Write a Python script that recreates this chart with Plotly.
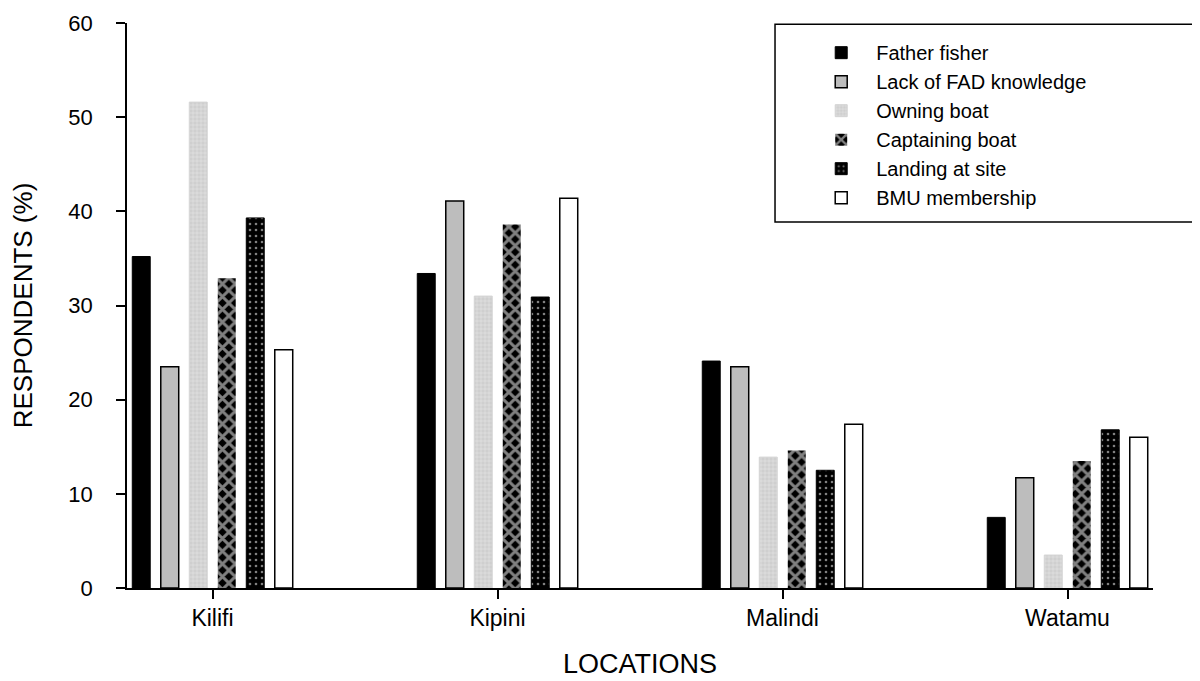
import plotly.graph_objects as go

locations = ["Kilifi", "Kipini", "Malindi", "Watamu"]
series_names = ["Father fisher", "Lack of FAD knowledge", "Owning boat",
                "Captaining boat", "Landing at site", "BMU membership"]
father_fisher = [35.2, 33.4, 24.1, 7.5]
lack_fad = [23.5, 41.1, 23.5, 11.7]
owning_boat = [51.6, 31.0, 13.9, 3.5]
captaining_boat = [32.9, 38.6, 14.6, 13.5]
landing_site = [39.3, 30.9, 12.5, 16.8]
bmu_membership = [25.3, 41.4, 17.4, 16.0]
y_ticks = [0, 10, 20, 30, 40, 50, 60]

values = [father_fisher, lack_fad, owning_boat, captaining_boat, landing_site, bmu_membership]

styles = [
    dict(color="black", line=dict(color="black", width=1)),
    dict(color="#bdbdbd", line=dict(color="black", width=1.5)),
    dict(color="#d4d4d4", line=dict(color="#d4d4d4", width=1),
         pattern=dict(shape="+", fgcolor="white", bgcolor="#cfcfcf", size=4, solidity=0.25, fillmode="overlay")),
    dict(color="black", line=dict(color="white", width=0),
         pattern=dict(shape="x", fgcolor="white", bgcolor="black", size=9, solidity=0.55)),
    dict(color="black", line=dict(color="black", width=1),
         pattern=dict(shape=".", fgcolor="white", bgcolor="black", size=6, solidity=0.15)),
    dict(color="white", line=dict(color="black", width=1.5)),
]

fig = go.Figure()
for name, vals, st in zip(series_names, values, styles):
    fig.add_trace(go.Bar(x=locations, y=vals, name=name, marker=st))

font_family = "Liberation Sans, Arial, sans-serif"
fig.update_layout(
    width=1200, height=681,
    margin=dict(l=119, r=55, t=15, b=101, autoexpand=False),
    paper_bgcolor="white", plot_bgcolor="white",
    barmode="group", bargap=0.4, bargroupgap=0.37,
    font=dict(family=font_family, color="black", size=20),
    legend=dict(
        x=0.662, y=0.982, xanchor="left", yanchor="top",
        borderwidth=0, bgcolor="rgba(0,0,0,0)",
        font=dict(size=20, family=font_family),
        itemwidth=60, tracegroupgap=0,
    ),
    shapes=[dict(type="rect", xref="paper", yref="paper",
                 x0=0.6316, x1=1.0419, y0=0.648, y1=0.998,
                 line=dict(color="black", width=1.5), layer="above")],
    xaxis=dict(
        range=[-0.3, 3.3], showline=True, linecolor="black", linewidth=1.5,
        ticks="outside", ticklen=9, tickwidth=1.5, tickcolor="black",
        showgrid=False, zeroline=False, automargin=False,
        tickfont=dict(size=23), ticklabelstandoff=0,
        title=dict(text="LOCATIONS", font=dict(size=27), standoff=24),
    ),
    yaxis=dict(
        range=[0, 60], tickvals=y_ticks, showline=True, linecolor="black", linewidth=1.5,
        ticks="outside", ticklen=9, tickwidth=1.5, tickcolor="black",
        showgrid=False, zeroline=False, automargin=False,
        tickfont=dict(size=22), ticklabelstandoff=19,
        title=dict(text="RESPONDENTS (%)", font=dict(size=26), standoff=38),
    ),
)

fig.write_html("out.html")
